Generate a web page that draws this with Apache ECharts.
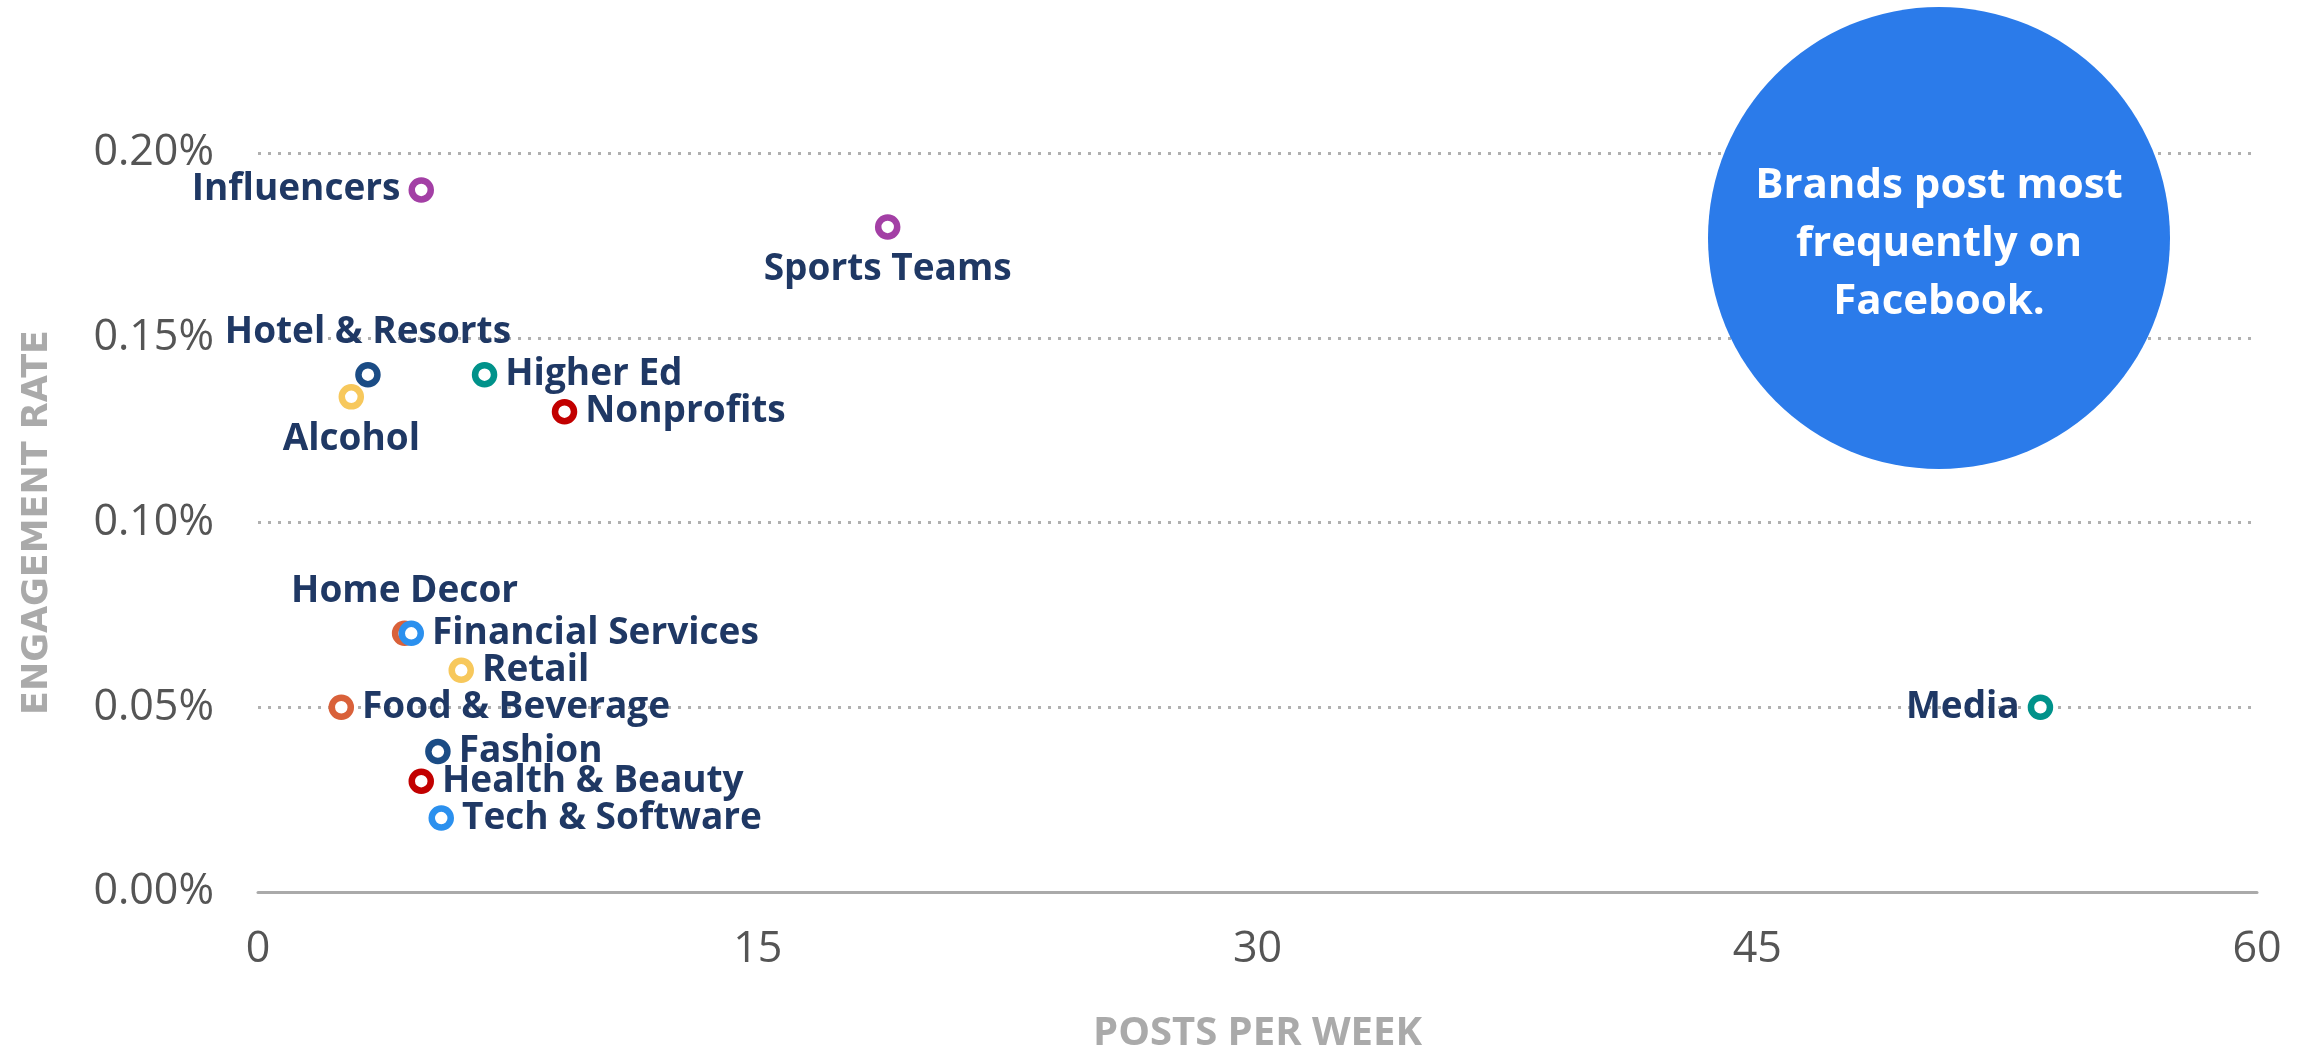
<!DOCTYPE html>
<html>
<head>
<meta charset="utf-8">
<script src="https://cdn.jsdelivr.net/npm/echarts@6/dist/echarts.min.js"></script>
<style>
html,body{margin:0;padding:0;background:#fff;}
#main{width:2301px;height:1059px;}
</style>
</head>
<body>
<div id="main"></div>
<script>
// 行业数据
var names = ['Influencers','Sports Teams','Hotel & Resorts','Alcohol','Higher Ed','Nonprofits',
	'Home Decor','Financial Services','Retail','Food & Beverage','Fashion','Health & Beauty',
	'Tech & Software','Media'];
var postsPerWeek = [4.9, 18.9, 3.3, 2.8, 6.8, 9.2, 4.4, 4.6, 6.1, 2.5, 5.4, 4.9, 5.5, 53.5];
var engagementRate = [0.19, 0.18, 0.14, 0.134, 0.14, 0.13, 0.07, 0.07, 0.06, 0.05, 0.038, 0.03, 0.02, 0.05];
var xTicks = [0, 15, 30, 45, 60];
var yTicks = [0, 0.05, 0.10, 0.15, 0.20];
var noteLines = ['Brands post most', 'frequently on', 'Facebook.'];

var colorOf = {
	'Influencers':'#A33FA5','Sports Teams':'#A33FA5',
	'Hotel & Resorts':'#1B4C85','Fashion':'#1B4C85',
	'Alcohol':'#F7C85C','Retail':'#F7C85C',
	'Higher Ed':'#00928A','Media':'#00928A',
	'Nonprofits':'#C20000','Health & Beauty':'#C20000',
	'Food & Beverage':'#D9613A','Home Decor':'#D9613A',
	'Financial Services':'#2B90EE','Tech & Software':'#2B90EE'
};
var labelPos = {
	'Influencers':'left','Sports Teams':'bottom','Hotel & Resorts':'top','Alcohol':'bottom',
	'Home Decor':'top','Media':'left'
};

var myChart = echarts.init(document.getElementById('main'));
var points = names.map(function(n, i){
	var pos = labelPos[n] || 'right';
	return {
		name: n,
		value: [postsPerWeek[i], engagementRate[i]],
		itemStyle: { color:'#fff', borderColor: colorOf[n], borderWidth: 6.5, opacity: 1 },
		label: { position: pos, distance: (pos === 'top' || pos === 'bottom') ? 11 : 8 }
	};
});

var option = {
	animation: false,
	grid: { left: 258, right: 44, top: 153, bottom: 160 },
	xAxis: {
		type: 'value', min: xTicks[0], max: xTicks[xTicks.length-1], interval: 15,
		name: 'POSTS PER WEEK', nameLocation: 'middle', nameGap: 122,
		nameTextStyle: { color:'#aaa', fontFamily:'Open Sans', fontWeight:'bold', fontSize: 40 },
		axisLine: { show: true, lineStyle: { color:'#aaa', width: 3 } },
		axisTick: { show: false },
		splitLine: { show: false },
		axisLabel: { color:'#555', fontFamily:'Open Sans', fontSize: 43, margin: 36 }
	},
	yAxis: {
		type: 'value', min: yTicks[0], max: yTicks[yTicks.length-1], interval: 0.05,
		name: 'ENGAGEMENT RATE', nameLocation: 'middle', nameRotate: 90, nameGap: 203,
		nameTextStyle: { color:'#aaa', fontFamily:'DejaVu Sans', fontWeight:'bold', fontSize: 35 },
		axisLine: { show: false },
		axisTick: { show: false },
		splitLine: { lineStyle: { color:'#b0b0b0', width: 3, type: [3, 7] } },
		axisLabel: { color:'#555', fontFamily:'Open Sans', fontSize: 43, margin: 44,
			formatter: function(v){ return v.toFixed(2) + '%'; } }
	},
	graphic: [{
		type: 'circle', z: 10,
		shape: { cx: 1939, cy: 238, r: 231 },
		style: { fill: '#2B7BEA' }
	}, {
		type: 'text', z: 11,
		x: 1939, y: 244,
		style: {
			text: noteLines.join('\n'), fill:'#fff', align:'center', verticalAlign:'middle',
			font: 'bold 42px "Open Sans"', lineHeight: 58
		}
	}],
	series: [{
		type: 'scatter',
		symbol: 'circle',
		symbolSize: 19,
		data: points,
		itemStyle: { opacity: 1 },
		label: {
			show: true, formatter: '{b}', color:'#1F3864',
			fontFamily:'Open Sans', fontWeight:'bold', fontSize: 37
		},
		emphasis: { disabled: true }
	}]
};
myChart.setOption(option);
</script>
</body>
</html>
